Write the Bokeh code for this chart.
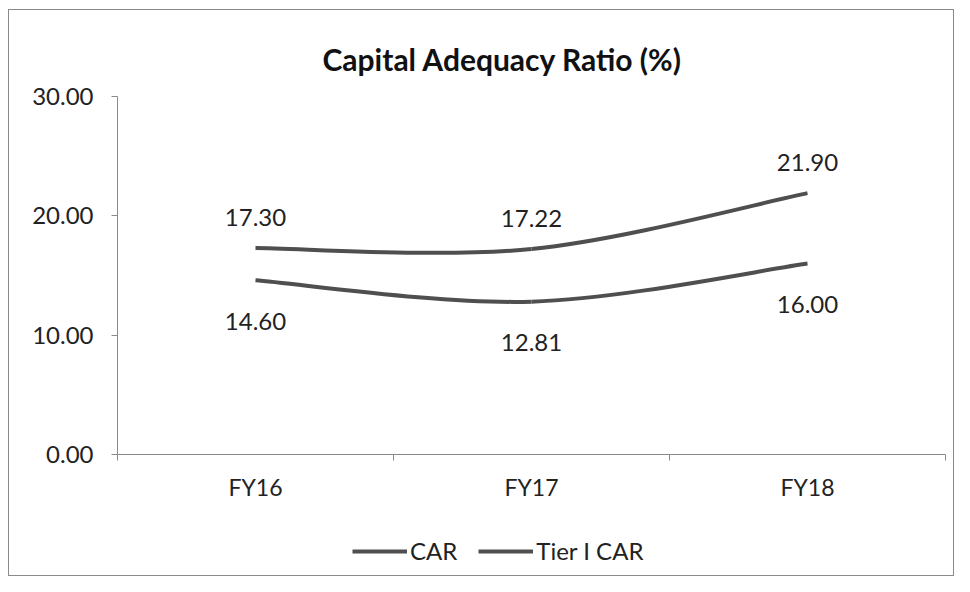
from bokeh.plotting import figure
from bokeh.layouts import column
from bokeh.models import (Range1d, FixedTicker, Legend, LegendItem, LabelSet,
                          ColumnDataSource)
from bokeh.core.properties import value
from bokeh.embed import file_html
from bokeh.resources import INLINE

# ---- data ----
categories = ["FY16", "FY17", "FY18"]
car = [17.30, 17.22, 21.90]
tier1 = [14.60, 12.81, 16.00]
series_names = ["CAR", "Tier I CAR"]
y_ticks = [0, 10, 20, 30]

FONT = "Lato"
LINE_COLOR = "#4f4f4f"
TEXT_COLOR = "#222222"
AXIS_COLOR = "#8a8a8a"

xs = [i + 0.5 for i in range(len(categories))]


def bezier_segments(x, y):
    """Catmull-Rom style smoothed segments (like a spreadsheet's smoothed line)."""
    n = len(x)
    d = dict(x0=[], y0=[], x1=[], y1=[], cx0=[], cy0=[], cx1=[], cy1=[])
    t = 1.0 / 6.0
    for i in range(n - 1):
        a = max(i - 1, 0)
        b = min(i + 2, n - 1)
        d["x0"].append(x[i]); d["y0"].append(y[i])
        d["x1"].append(x[i + 1]); d["y1"].append(y[i + 1])
        d["cx0"].append(x[i] + (x[i + 1] - x[a]) * t)
        d["cy0"].append(y[i] + (y[i + 1] - y[a]) * t)
        d["cx1"].append(x[i + 1] - (x[b] - x[i]) * t)
        d["cy1"].append(y[i + 1] - (y[b] - y[i]) * t)
    return ColumnDataSource(d)


sources = [bezier_segments(xs, vals) for vals in (car, tier1)]

W = 944
p = figure(width=W, height=503, output_backend="svg", toolbar_location=None,
           x_range=Range1d(0, len(categories)), y_range=Range1d(0, 30),
           min_border_left=108, min_border_right=8,
           min_border_top=86, min_border_bottom=59,
           background_fill_color="white", border_fill_color="white")
p.outline_line_color = None
p.xgrid.visible = False
p.ygrid.visible = False

p.title.text = "Capital Adequacy Ratio (%)"
p.title.align = "left"
p.title.offset = 205
p.title.vertical_align = "bottom"
p.title.text_line_height = 1.6
p.title.text_font = FONT
p.title.text_font_size = "30px"
p.title.text_font_style = "bold"
p.title.text_color = "#111111"
p.title.standoff = 40

# axes
p.yaxis.ticker = FixedTicker(ticks=y_ticks)
p.yaxis.major_label_overrides = {t: f"{t:.2f}" for t in y_ticks}
p.yaxis.major_tick_out = 6
p.yaxis.major_tick_in = 0
p.yaxis.minor_tick_line_color = None
p.yaxis.major_label_standoff = 18
p.yaxis.major_label_text_font_size = "24px"
for ax in (p.xaxis, p.yaxis):
    ax.axis_line_color = AXIS_COLOR
    ax.major_tick_line_color = AXIS_COLOR
    ax.major_label_text_font = FONT
    ax.major_label_text_color = TEXT_COLOR

p.xaxis.ticker = FixedTicker(ticks=xs, minor_ticks=list(range(len(categories) + 1)))
p.xaxis.major_label_overrides = {x: c for x, c in zip(xs, categories)}
p.xaxis.major_label_text_font_size = "23px"
p.xaxis.major_tick_out = 0
p.xaxis.major_tick_in = 0
p.xaxis.minor_tick_out = 6
p.xaxis.minor_tick_in = 0
p.xaxis.minor_tick_line_color = AXIS_COLOR
p.xaxis.major_label_standoff = 12

bez = dict(x0="x0", y0="y0", x1="x1", y1="y1", cx0="cx0", cy0="cy0",
           cx1="cx1", cy1="cy1", line_color=LINE_COLOR, line_width=4)

# smoothed lines
for src in sources:
    p.bezier(source=src, **bez)

# data labels
car_src = ColumnDataSource(dict(x=xs, y=car, t=[f"{v:.2f}" for v in car]))
tier_src = ColumnDataSource(dict(x=xs, y=tier1, t=[f"{v:.2f}" for v in tier1]))
p.add_layout(LabelSet(x="x", y="y", text="t", source=car_src, y_offset=31,
                      text_align="center", text_baseline="middle",
                      text_font=value(FONT), text_font_size=value("24px"),
                      text_color=TEXT_COLOR))
p.add_layout(LabelSet(x="x", y="y", text="t", source=tier_src, y_offset=-41,
                      text_align="center", text_baseline="middle",
                      text_font=value(FONT), text_font_size=value("24px"),
                      text_color=TEXT_COLOR))

# legend strip (a second figure directly beneath, holding the legend);
# its renderers reuse the series data, which lies outside this strip's ranges
p2 = figure(width=W, height=62, output_backend="svg", toolbar_location=None,
            x_range=Range1d(0, 1), y_range=Range1d(0, 1),
            min_border=0, background_fill_color="white",
            border_fill_color="white")
p2.outline_line_color = None
p2.axis.visible = False
p2.grid.visible = False
legend_renderers = [p2.bezier(source=src, **bez) for src in sources]
legend = Legend(items=[LegendItem(label=n, renderers=[r])
                       for n, r in zip(series_names, legend_renderers)],
                orientation="horizontal", location=(235, 10),
                glyph_width=55, glyph_height=20, label_standoff=3, spacing=21,
                padding=0, margin=0, border_line_color=None,
                background_fill_alpha=0,
                label_text_font=FONT, label_text_font_size="24px",
                label_text_color=TEXT_COLOR)
p2.add_layout(legend)

layout = column(p, p2, spacing=0,
                styles={"border": "1px solid #8a8a8a",
                        "margin-left": "8px", "margin-top": "9px"})

open("out.html", "w").write(file_html(layout, INLINE))
